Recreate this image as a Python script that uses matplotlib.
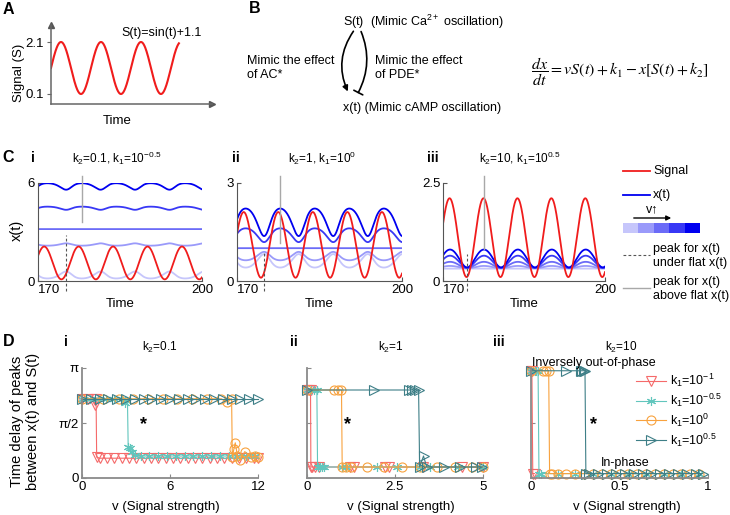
import numpy as np
import matplotlib
matplotlib.use('Agg')
import matplotlib.pyplot as plt
from matplotlib.patches import FancyArrowPatch, Rectangle

plt.rcParams['font.family'] = ['Liberation Sans', 'DejaVu Sans']
plt.rcParams['mathtext.fontset'] = 'custom'
plt.rcParams['mathtext.rm'] = 'Liberation Sans'
plt.rcParams['mathtext.it'] = 'Liberation Sans:italic'
plt.rcParams['mathtext.bf'] = 'Liberation Sans:bold'
plt.rcParams['font.size'] = 9

W, H = 730, 515

# ---------------- data ----------------
# signal S(t) = sin(t) + 1.1 (stated on the chart)
sig_offset = 1.1
t_a_end = 20.1

# panel C: model dx/dt = v S(t) + k1 - x [S(t) + k2], five signal strengths each
c_k2 = [0.1, 1.0, 10.0]
c_k1 = [10 ** -0.5, 1.0, 10 ** 0.5]
c_v = [[0.0, 2.1, 3.1623, 4.6, 6.1],
       [0.12, 0.45, 1.0, 1.9, 2.8],
       [0.3, 0.7, 1.3, 2.2, 3.1]]
c_ymax = [6, 3, 2.5]
c_ytick_labels = [['0', '6'], ['0', '3'], ['0', '2.5']]
c_titles = ['k$_2$=0.1, k$_1$=10$^{-0.5}$', 'k$_2$=1, k$_1$=10$^{0}$', 'k$_2$=10, k$_1$=10$^{0.5}$']
# extent of the peak markers (dashed: under flat x, solid: above flat x)
c_dash_top = [2.82, 0.87, 0.69]
c_solid_bottom = [3.62, 1.16, 0.81]
blue_shades = ['#c6c6fb', '#9a9afa', '#6b6bf7', '#3838f5', '#0000f0']

# panel D: phase delay (units of pi) vs v, for k1 = 10^-1, 10^-0.5, 10^0, 10^0.5
d_titles = ['k$_2$=0.1', 'k$_2$=1', 'k$_2$=10']
d_xmax = [12, 5, 1]
d_xticks = [[0, 6, 12], [0, 2.5, 5], [0, 0.5, 1]]
d_xtick_labels = [['0', '6', '12'], ['0', '2.5', '5'], ['0', '0.5', '1']]
k1_labels = ['k$_1$=10$^{-1}$', 'k$_1$=10$^{-0.5}$', 'k$_1$=10$^{0}$', 'k$_1$=10$^{0.5}$']

# k2 = 0.1
d1_red_v = [0, 0.4, 0.8, 0.9, 0.96, 1.0, 1.2, 1.7, 2.2, 2.7, 3.2, 3.7, 4.2, 4.7, 5.2, 5.7,
            6.2, 6.7, 7.2, 7.7, 8.2, 8.7, 9.2, 9.7, 10.2, 10.7, 11.2, 11.7, 12.0]
d1_red_p = [0.72, 0.72, 0.72, 0.66, 0.72, 0.19, 0.18, 0.18, 0.18, 0.18, 0.18, 0.18, 0.18, 0.18,
            0.18, 0.18, 0.18, 0.18, 0.18, 0.18, 0.18, 0.18, 0.18, 0.18, 0.18, 0.18, 0.18, 0.18, 0.18]
d1_teal_v = [0, 0.55, 1.1, 1.65, 2.2, 2.75, 2.95, 3.1, 3.15, 3.25, 3.4, 3.6, 4.0, 4.6, 5.2,
             5.8, 6.4, 7.0, 7.6, 8.2, 8.8, 9.4, 10.0, 10.6, 11.2, 11.8]
d1_teal_p = [0.72, 0.72, 0.72, 0.72, 0.72, 0.72, 0.68, 0.70, 0.28, 0.27, 0.24, 0.21, 0.2, 0.2,
             0.2, 0.2, 0.2, 0.2, 0.2, 0.2, 0.2, 0.2, 0.2, 0.2, 0.2, 0.2]
d1_orange_v = [0, 1.4, 2.5, 3.5, 4.5, 5.5, 6.5, 7.5, 8.5, 9.5, 9.9, 10.2, 10.25, 10.35, 10.45,
               10.6, 10.75, 11.1, 11.5, 11.8, 12.0]
d1_orange_p = [0.72, 0.72, 0.72, 0.72, 0.72, 0.72, 0.72, 0.72, 0.72, 0.72, 0.69, 0.72, 0.19, 0.26,
               0.32, 0.2, 0.16, 0.24, 0.19, 0.2, 0.19]
d1_dark_v = [0, 0.6, 1.2, 1.8, 2.4, 3.0, 3.6, 4.2, 4.8, 5.4, 6.0, 6.6, 7.2, 7.8, 8.4, 9.0,
             9.6, 10.2, 10.8, 11.4, 12.0]
d1_dark_p = [0.72] * 21

# k2 = 1
d2_red_v = [0, 0.05, 0.1, 0.11, 0.15, 0.24, 0.33, 1.23, 1.33, 2.23, 2.32, 3.3, 4.4, 5.0]
d2_red_p = [0.8, 0.8, 0.8, 0.1, 0.1, 0.1, 0.1, 0.1, 0.1, 0.1, 0.1, 0.1, 0.1, 0.1]
d2_teal_v = [0, 0.1, 0.2, 0.28, 0.3, 0.36, 0.42, 0.47, 1.0, 1.1, 2.0, 2.55, 3.2, 3.5, 4.3, 5.0]
d2_teal_p = [0.8, 0.8, 0.8, 0.8, 0.1, 0.1, 0.1, 0.1, 0.1, 0.1, 0.1, 0.1, 0.1, 0.1, 0.1, 0.1]
d2_orange_v = [0, 0.78, 0.88, 0.98, 1.0, 1.1, 1.25, 1.7, 2.2, 2.7, 3.2, 3.7, 4.2, 4.7, 5.0]
d2_orange_p = [0.8, 0.8, 0.8, 0.8, 0.1, 0.1, 0.1, 0.1, 0.1, 0.1, 0.1, 0.1, 0.1, 0.1, 0.1]
d2_dark_v = [0, 1.9, 2.89, 2.98, 3.08, 3.17, 3.2, 3.31, 3.4, 3.9, 4.36, 4.8, 4.98]
d2_dark_p = [0.8, 0.8, 0.8, 0.8, 0.8, 0.8, 0.1, 0.2, 0.1, 0.1, 0.1, 0.1, 0.1]

# k2 = 10
d3_red_v = [0, 0.005, 0.01, 0.02]
d3_red_p = [0.975, 0.975, 0.04, 0.04]
d3_teal_v = [0, 0.02, 0.03, 0.04, 0.045, 0.055, 0.15, 0.25, 0.35, 0.45, 0.55, 0.65, 0.75, 0.85, 0.95]
d3_teal_p = [0.975, 0.975, 0.975, 0.975, 0.04, 0.04, 0.04, 0.04, 0.04, 0.04, 0.04, 0.04, 0.04, 0.04, 0.04]
d3_orange_v = [0, 0.07, 0.085, 0.1, 0.105, 0.12, 0.15, 0.2, 0.25, 0.3, 0.35, 0.4, 0.45, 0.5,
               0.55, 0.6, 0.65, 0.7, 0.75, 0.8, 0.85, 0.9, 0.95]
d3_orange_p = [0.975] * 4 + [0.04] * 19
d3_dark_v = [0, 0.2, 0.28, 0.29, 0.3, 0.305, 0.31, 0.33, 0.38, 0.43, 0.48, 0.53, 0.58, 0.63,
             0.68, 0.73, 0.78, 0.83, 0.88, 0.93, 0.97]
d3_dark_p = [0.975] * 6 + [0.04] * 15

d_series = [
    [(d1_red_v, d1_red_p), (d1_teal_v, d1_teal_p), (d1_orange_v, d1_orange_p), (d1_dark_v, d1_dark_p)],
    [(d2_red_v, d2_red_p), (d2_teal_v, d2_teal_p), (d2_orange_v, d2_orange_p), (d2_dark_v, d2_dark_p)],
    [(d3_red_v, d3_red_p), (d3_teal_v, d3_teal_p), (d3_orange_v, d3_orange_p), (d3_dark_v, d3_dark_p)],
]
d_colors = ['#f56a6a', '#62c6bd', '#f8a23e', '#3e7f87']
d_markers = ['v', (6, 2, 0), 'o', '>']


def signal(t):
    return np.sin(t) + sig_offset


def simulate(k1, k2, v_list, t0=120.0, t1=200.0, dt=0.01):
    v = np.asarray(v_list, dtype=float)
    n = int(round((t1 - t0) / dt))
    x = v.copy()
    ts = t0 + np.arange(n + 1) * dt
    xs = np.empty((n + 1, v.size))
    xs[0] = x

    def f(t, x):
        s = signal(t)
        return v * s + k1 - x * (s + k2)

    for i in range(n):
        t = ts[i]
        a = f(t, x)
        b = f(t + dt / 2, x + dt / 2 * a)
        c = f(t + dt / 2, x + dt / 2 * b)
        d = f(t + dt, x + dt * c)
        x = x + dt / 6 * (a + 2 * b + 2 * c + d)
        xs[i + 1] = x
    keep = ts >= 170
    return ts[keep], xs[keep]


fig = plt.figure(figsize=(W / 100, H / 100), dpi=100)


def px_axes(x0, y0, x1, y1):
    return fig.add_axes([x0 / W, 1 - y1 / H, (x1 - x0) / W, (y1 - y0) / H])


def style_axes(ax, color='#555555'):
    for side in ['top', 'right']:
        ax.spines[side].set_visible(False)
    for side in ['left', 'bottom']:
        ax.spines[side].set_color(color)
    ax.tick_params(direction='in', length=3, color=color, labelsize=9.5, pad=2)


# ---------------- panel A ----------------
axA = px_axes(51, 25, 212, 104)
tA = np.linspace(0, t_a_end, 400)
axA.plot(tA, signal(tA), color='#f01c1c', lw=1.5)
axA.set_xlim(0, 25.3)
axA.set_ylim(-0.285, 2.754)
axA.set_xticks([])
axA.set_yticks([0.1, 2.1])
axA.set_yticklabels(['0.1', '2.1'])
for side in ['top', 'right']:
    axA.spines[side].set_visible(False)
for side in ['left', 'bottom']:
    axA.spines[side].set_color('#666666')
    axA.spines[side].set_linewidth(1.1)
axA.tick_params(direction='out', length=3, color='#666666', labelsize=9.5, pad=2)
axA.plot(1, 0, '>', color='#555555', ms=5, transform=axA.transAxes, clip_on=False)
axA.plot(0, 1, '^', color='#555555', ms=5, transform=axA.transAxes, clip_on=False)
axA.set_ylabel('Signal (S)', fontsize=9.5, va='center')
axA.yaxis.set_label_coords(-0.199, 0.392)
axA.set_xlabel('Time', fontsize=9.5, va='center')
axA.xaxis.set_label_coords(0.41, -0.215)
axA.text(0.44, 0.9, 'S(t)=sin(t)+1.1', transform=axA.transAxes, fontsize=9, va='center')

# ---------------- panel C ----------------
c_boxes = [(37.5, 182.5, 202, 281), (237, 182.5, 402, 281), (443, 182.5, 605, 281)]
for k in range(3):
    ax = px_axes(*c_boxes[k])
    ts, xs = simulate(c_k1[k], c_k2[k], c_v[k])
    for j in range(len(c_v[k])):
        ax.plot(ts, xs[:, j], color=blue_shades[j], lw=1.3)
    ax.plot(ts, signal(ts), color='#f01c1c', lw=1.3)
    # peak of lowest-v curve after first signal trough; peak of highest-v curve after signal peak
    w1 = (ts > 172.0) & (ts < 178.3)
    w2 = (ts > 175.5) & (ts < 181.8)
    t_under = ts[w1][np.argmax(xs[w1, 0])]
    t_over = ts[w2][np.argmax(xs[w2, -1])]
    ymax = c_ymax[k]
    ax.plot([t_under, t_under], [-0.1 * ymax, c_dash_top[k]], color='#555555', lw=0.8,
            ls=(0, (2.5, 2)), clip_on=False)
    ax.plot([t_over, t_over], [1.07 * ymax, c_solid_bottom[k]], color='#a8a8a8', lw=1.0,
            clip_on=False)
    ax.set_xlim(170, 200)
    ax.set_ylim(0, ymax)
    ax.set_xticks([170, 200])
    ax.set_yticks([0, ymax])
    ax.set_yticklabels(c_ytick_labels[k])
    style_axes(ax)
    xl = ax.get_xticklabels()
    xl[0].set_ha('left')
    ax.set_xlabel('Time', fontsize=9.5, va='center')
    ax.xaxis.set_label_coords(0.5, -0.234)
    if k == 0:
        ax.set_ylabel('x(t)', fontsize=10.5, va='center')
        ax.yaxis.set_label_coords(-0.125, 0.518)

# ---------------- panel D ----------------
d_boxes = [(82, 368, 258, 478), (307, 368, 483, 478), (531, 368, 708, 478)]
d_xlabel_x = [0.477, 0.534, 0.54]
for k in range(3):
    ax = px_axes(*d_boxes[k])
    handles = []
    for j, (vv, pp) in enumerate(d_series[k]):
        h, = ax.plot(vv, np.array(pp) * np.pi, color=d_colors[j], lw=0.8, marker=d_markers[j],
                     ms=6.5, mfc='none', mew=0.8, clip_on=False, label=k1_labels[j])
        handles.append(h)
    ax.set_xlim(0, d_xmax[k])
    ax.set_ylim(0, np.pi)
    ax.set_xticks(d_xticks[k])
    ax.set_xticklabels(d_xtick_labels[k])
    ax.set_yticks([0, np.pi / 2, np.pi])
    if k == 0:
        ax.set_yticklabels(['0', 'π/2', 'π'])
        ax.set_ylabel('Time delay of peaks\nbetween x(t) and S(t)', fontsize=10.5, va='center',
                      linespacing=1.1)
        ax.yaxis.set_label_coords(-0.324, 0.518)
    else:
        ax.set_yticklabels([])
    style_axes(ax, '#8a8a8a')
    ax.spines['left'].set_linewidth(1.3)
    ax.spines['bottom'].set_linewidth(1.3)
    ax.set_xlabel('v (Signal strength)', fontsize=9.5, va='center')
    ax.xaxis.set_label_coords(d_xlabel_x[k], -0.264)
    if k == 2:
        ax.legend(handles=handles, loc='upper left', bbox_to_anchor=(636 / W, 1 - 372 / H),
                  bbox_transform=fig.transFigure, frameon=False, fontsize=9, handlelength=2.4,
                  handletextpad=0.3, labelspacing=0.2, borderpad=0, borderaxespad=0)

# ---------------- overlay: letters, titles, diagram, legend for C ----------------
ov = fig.add_axes([0, 0, 1, 1])
ov.set_xlim(0, W)
ov.set_ylim(H, 0)
ov.axis('off')

for lab, x, y in [('A', 3, 9), ('B', 249, 8.5), ('C', 2, 157.5), ('D', 3, 341.5)]:
    ov.text(x, y, lab, fontsize=11.5, fontweight='bold', va='center')
for lab, x, y in [('i', 31, 158), ('ii', 232, 158), ('iii', 427, 158),
                  ('i', 64, 342), ('ii', 290, 342), ('iii', 493, 342)]:
    ov.text(x, y, lab, fontsize=10, fontweight='bold', va='center')
for s, x in zip(c_titles, [117, 322, 520]):
    ov.text(x, 158, s, fontsize=8.5, ha='center', va='center')
for s, x in zip(d_titles, [160, 391, 621]):
    ov.text(x, 347, s, fontsize=8.5, ha='center', va='center')
for x in [143, 348, 593]:
    ov.text(x, 425, '*', fontsize=13, fontweight='bold', ha='center', va='center')
ov.text(594, 363, 'Inversely out-of-phase', fontsize=9, ha='center', va='center')
ov.text(625, 463, 'In-phase', fontsize=9, ha='center', va='center')

# panel B diagram
ov.text(343, 21.5, 'S(t)  (Mimic Ca$^{2+}$ oscillation)', fontsize=9, va='center')
ov.text(343, 108, 'x(t) (Mimic cAMP oscillation)', fontsize=9, va='center')
ov.text(247, 68, 'Mimic the effect\nof AC*', fontsize=9, va='center', linespacing=1.25)
ov.text(375, 68, 'Mimic the effect\nof PDE*', fontsize=9, va='center', linespacing=1.25)
ov.text(531, 72, r'$\dfrac{dx}{dt} = vS(t) + k_1 - x[S(t) + k_2]$', fontsize=11.5, va='center',
        math_fontfamily='stix')
ov.add_patch(FancyArrowPatch((355, 29), (349, 94), connectionstyle='arc3,rad=0.3',
                             arrowstyle='-|>', mutation_scale=8, lw=1.2, color='black'))
ov.add_patch(FancyArrowPatch((360, 29), (357, 95), connectionstyle='arc3,rad=-0.25',
                             arrowstyle='-[, widthB=0.6, lengthB=0', mutation_scale=6, lw=1.2,
                             color='black'))

# legend for panel C
ov.plot([623, 650], [171, 171], color='#f01c1c', lw=1.3)
ov.text(653, 171, 'Signal', fontsize=9, va='center')
ov.plot([623, 650], [195, 195], color='#0000f0', lw=1.3)
ov.text(653, 195, 'x(t)', fontsize=9, va='center')
ov.text(652, 209, 'v↑', fontsize=9, ha='center', va='center')
ov.annotate('', xy=(674, 218), xytext=(631, 218),
            arrowprops=dict(arrowstyle='-|>', lw=1.0, color='black', mutation_scale=7))
for j, col in enumerate(blue_shades):
    ov.add_patch(Rectangle((623 + j * 15.4, 223), 15.4, 10, facecolor=col, edgecolor='none'))
ov.plot([623, 650], [255, 255], color='#555555', lw=0.8, ls=(0, (2.5, 2)))
ov.text(653, 256, 'peak for x(t)\nunder flat x(t)', fontsize=9, va='center', linespacing=1.2)
ov.plot([623, 650], [288, 288], color='#a8a8a8', lw=1.0)
ov.text(653, 289, 'peak for x(t)\nabove flat x(t)', fontsize=9, va='center', linespacing=1.2)

fig.savefig('out.png', dpi=100)
